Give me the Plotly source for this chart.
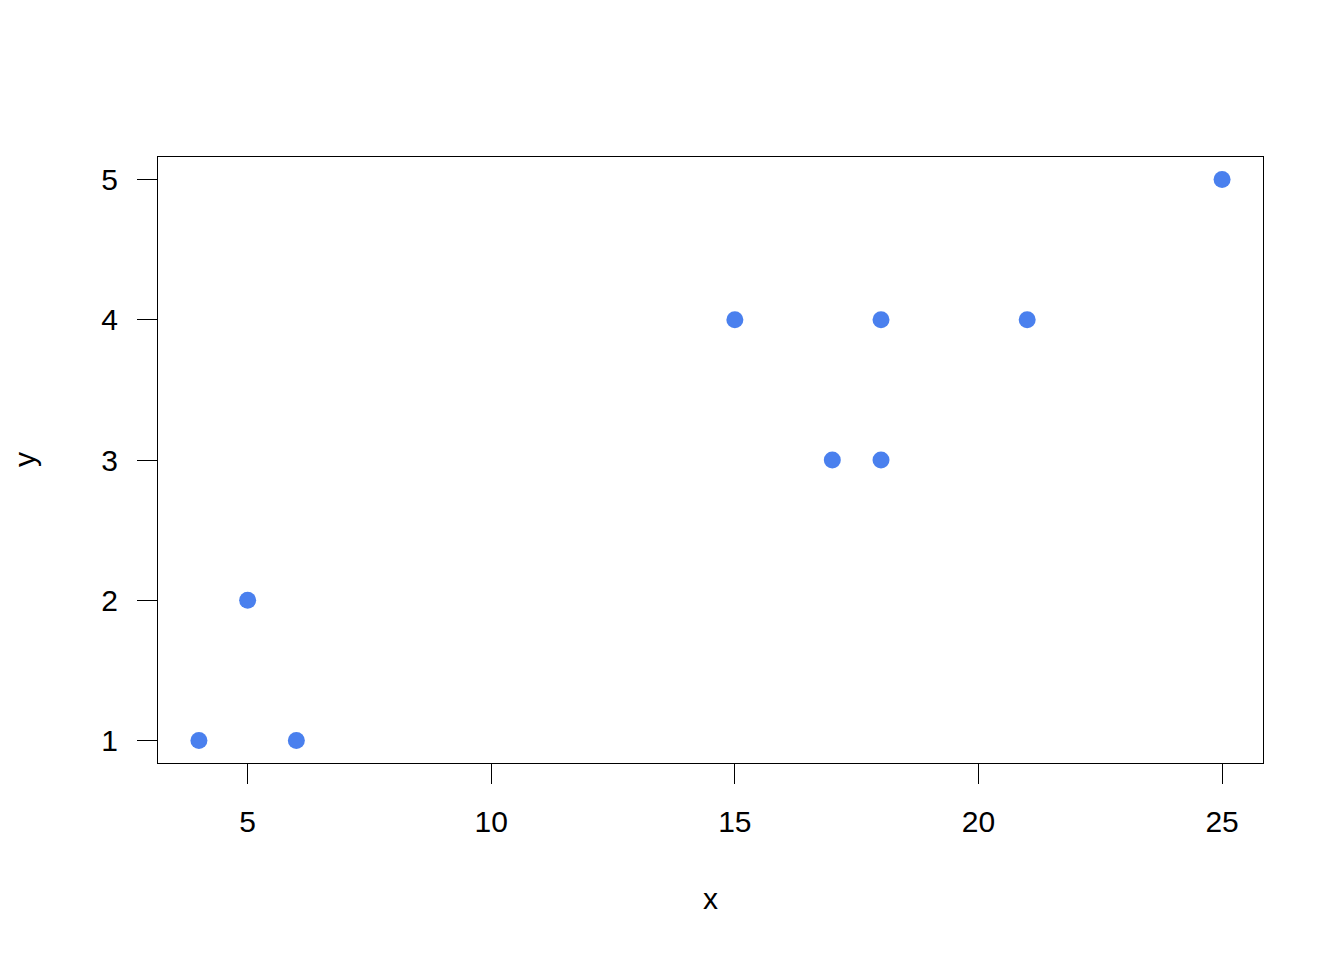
import plotly.graph_objects as go

x_vals = [4, 5, 6, 15, 17, 18, 18, 21, 25]
y_vals = [1, 2, 1, 4, 3, 4, 3, 4, 5]
x_ticks = [5, 10, 15, 20, 25]
y_ticks = [1, 2, 3, 4, 5]

FONT = "Liberation Sans, Arial, sans-serif"
FS = 30

fig = go.Figure()
fig.add_trace(go.Scatter(
    x=x_vals, y=y_vals, mode="markers",
    marker=dict(color="#4A80EE", size=17, line=dict(width=0)),
    showlegend=False, hoverinfo="x+y",
))

axis_common = dict(
    showgrid=False, zeroline=False,
    showline=True, mirror=True, linecolor="black", linewidth=1.3,
    ticks="outside", ticklen=20, tickwidth=1.3, tickcolor="black",
    tickfont=dict(family=FONT, size=FS, color="black"),
)

fig.update_layout(
    width=1344, height=960,
    margin=dict(l=150, r=89, t=149, b=205),
    paper_bgcolor="white", plot_bgcolor="white",
    font=dict(family=FONT, size=FS, color="black"),
    xaxis=dict(range=[3.16, 25.84], tickvals=x_ticks, ticklabelstandoff=12, **axis_common),
    yaxis=dict(range=[0.84, 5.16], tickvals=y_ticks, ticklabelstandoff=13, **axis_common),
    annotations=[
        dict(text="x", xref="paper", yref="paper", x=0.5, y=0, yshift=-135,
             xanchor="center", yanchor="middle", showarrow=False,
             font=dict(family=FONT, size=FS, color="black")),
        dict(text="y", xref="paper", yref="paper", x=0, y=0.5, xshift=-134,
             xanchor="center", yanchor="middle", showarrow=False, textangle=-90,
             font=dict(family=FONT, size=FS, color="black")),
    ],
)

fig.write_html("out.html")
